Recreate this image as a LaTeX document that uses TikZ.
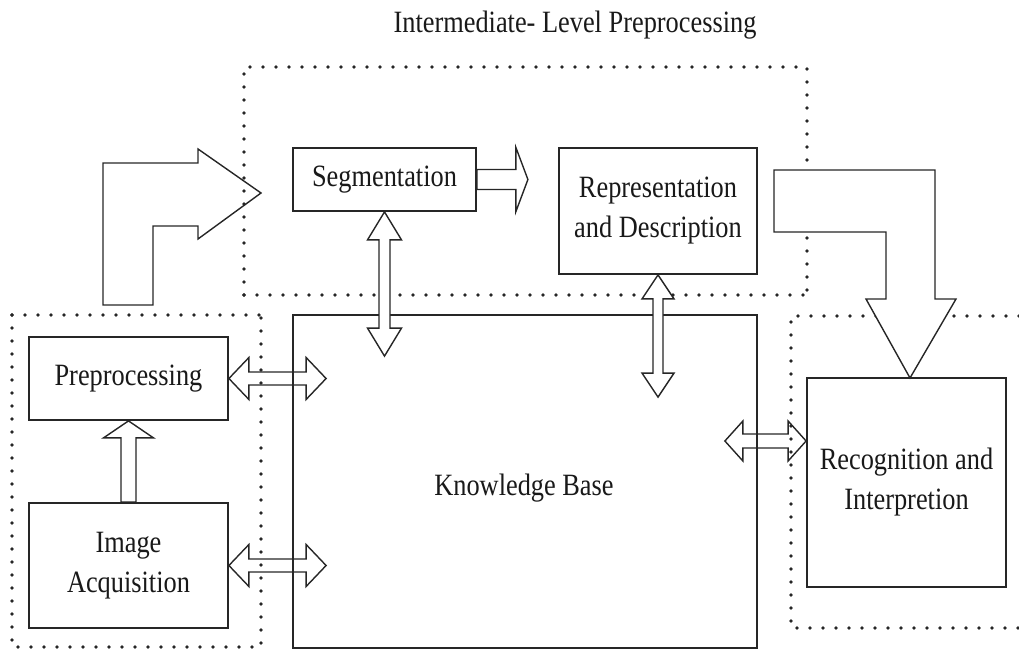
\documentclass[tikz,border=0pt]{standalone}
\usepackage{fontspec}
\setmainfont[FakeStretch=0.85]{Liberation Serif}
\usetikzlibrary{calc}

% Double-headed block arrow between two tip points.
% #1 style, #2 and #3 tips, #4 shaft half width, #5 head length, #6 head half width
\newcommand\dblblock[6]{%
  \draw[#1] (#2)
    -- ($(#2)!#5!(#3)!#6!90:(#3)$)
    -- ($(#2)!#5!(#3)!#4!90:(#3)$)
    -- ($(#3)!#5!(#2)!#4!-90:(#2)$)
    -- ($(#3)!#5!(#2)!#6!-90:(#2)$)
    -- (#3)
    -- ($(#3)!#5!(#2)!#6!90:(#2)$)
    -- ($(#3)!#5!(#2)!#4!90:(#2)$)
    -- ($(#2)!#5!(#3)!#4!-90:(#3)$)
    -- ($(#2)!#5!(#3)!#6!-90:(#3)$)
    -- cycle;}

% Single-headed block arrow from a tail point to a tip point.
% #1 style, #2 tail, #3 tip, #4 shaft half width, #5 head length, #6 head half width
\newcommand\oneblock[6]{%
  \draw[#1] ($(#2)!#4!90:(#3)$)
    -- ($(#3)!#5!(#2)!#4!-90:(#2)$)
    -- ($(#3)!#5!(#2)!#6!-90:(#2)$)
    -- (#3)
    -- ($(#3)!#5!(#2)!#6!90:(#2)$)
    -- ($(#3)!#5!(#2)!#4!90:(#2)$)
    -- ($(#2)!#4!-90:(#3)$)
    -- cycle;}

\begin{document}
\begin{tikzpicture}[x=1pt,y=-1pt,
  every node/.style={font=\fontsize{31}{40}\selectfont, text=black!90},
  box/.style={draw=black!85, line width=1.8pt, fill=white, inner sep=0pt, align=center},
  dotline/.style={draw=black!85, line width=3.8pt, line cap=round, dash pattern=on 0pt off 13pt},
  blockarrow/.style={draw=black!85, line width=1.4pt, line join=miter},
  blockfill/.style={blockarrow, fill=white}]

\useasboundingbox (0,0) rectangle (1019,650);

% dotted stage borders
\draw[dotline] (244,295) -- (244,67) -- (807,67) -- (807,295);
\draw[dotline] (244,295) -- (815,295);
\draw[dotline] (12,315) -- (267,315);
\draw[dotline] (12,315) -- (12,647) -- (261,647) -- (261,315);
\draw[dotline] (1019,316) -- (791,316) -- (791,628) -- (1019,628);

% stage title
\node[anchor=base] (title) at (575,33) {Intermediate- Level Preprocessing};

% processing blocks
\node[box, minimum width=464pt, minimum height=333pt] (kb) at (525,481.5) {};
\node[anchor=base] (kbtext) at (524,495) {Knowledge Base};
\node[box, minimum width=183pt, minimum height=63pt] (seg) at (384.5,179.5) {Segmentation};
\node[box, minimum width=198pt, minimum height=126pt] (rep) at (658,211) {Representation\\and Description};
\node[box, minimum width=199pt, minimum height=83pt] (pre) at (128.5,378.5) {Preprocessing};
\node[box, minimum width=199pt, minimum height=125pt] (acq) at (128.5,565.5) {Image\\Acquisition};
\node[box, minimum width=199pt, minimum height=209pt] (rec) at (906.5,482.5) {Recognition and\\Interpretion};

% arrow end points
\coordinate (preK) at ($(kb.west |- pre.east)+(34,0)$);
\coordinate (acqK) at ($(kb.west |- acq.east)+(34,0)$);
\coordinate (segK) at ($(seg.south |- kb.north)+(0,42)$);
\coordinate (repK) at ($(rep.south |- kb.north)+(0,83)$);
\coordinate (recW) at ($(rec.west)+(0,-41.5)$);
\coordinate (kbE) at ($(kb.east |- recW)+(-33,0)$);
\coordinate (segE) at ($(seg.east)+(51,0)$);

% connectors between blocks
\dblblock{blockarrow}{pre.east}{preK}{6.5pt}{20pt}{21pt}
\dblblock{blockarrow}{acq.east}{acqK}{6.5pt}{20pt}{21pt}
\dblblock{blockarrow}{kbE}{recW}{7pt}{18pt}{20pt}
\dblblock{blockfill}{seg.south}{segK}{5.5pt}{28pt}{17pt}
\dblblock{blockfill}{rep.south}{repK}{5pt}{24pt}{16pt}
\oneblock{blockfill}{acq.north}{pre.south}{7.5pt}{17pt}{25pt}
\oneblock{blockfill}{seg.east}{segE}{10pt}{12pt}{32pt}

% bent flow arrows into and out of the intermediate stage
\draw[blockarrow] (103,305) -- (103,163) -- (198,163) -- (198,149) -- (261,193)
  -- (198,239) -- (198,226) -- (153,226) -- (153,305) -- cycle;
\draw[blockfill] (774,170) -- (935,170) -- (935,299) -- (956,299) -- (910,378)
  -- (866,299) -- (886,299) -- (886,232) -- (774,232) -- cycle;

\end{tikzpicture}
\end{document}
